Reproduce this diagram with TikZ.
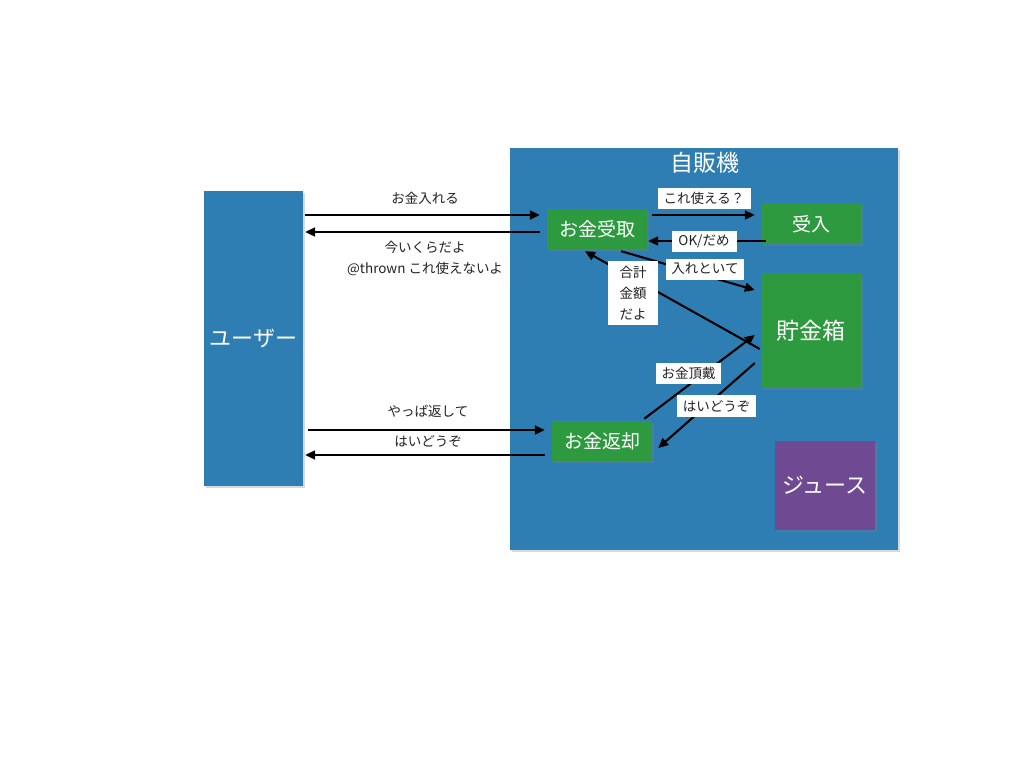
\documentclass[tikz,border=0pt]{standalone}
\usepackage{fontspec}
\setmainfont{Noto Sans CJK JP}
\usetikzlibrary{arrows.meta,shadows}
\definecolor{kblue}{RGB}{47,126,179}
\definecolor{kgreen}{RGB}{46,154,63}
\definecolor{kpurple}{RGB}{111,74,147}
\definecolor{ktext}{RGB}{34,34,34}
\begin{document}
\begin{tikzpicture}[x=1pt,y=-1pt,
  shad/.style={drop shadow={opacity=0.3,shadow xshift=1.5pt,shadow yshift=-1.5pt}},
  bluebox/.style={fill=kblue,draw=none,inner sep=0pt,shad},
  gbox/.style={fill=kgreen,draw=none,text=white,inner sep=0pt,minimum width=100pt,font=\fontsize{19}{22}\selectfont,shad},
  lbl/.style={text=ktext,inner sep=0pt,font=\fontsize{13.5}{21}\selectfont,align=center},
  wbox/.style={fill=white,text=ktext,inner sep=0pt,font=\fontsize{13.5}{21}\selectfont,align=center},
  arr/.style={draw=black,line width=2.1pt,-{Triangle[length=10pt,width=9pt]}}]
\useasboundingbox (0,0) rectangle (1024,768);
% containers
\node[bluebox,minimum width=388pt,minimum height=402pt] (machine) at (704,349) {};
\node[text=white,font=\fontsize{23}{26}\selectfont,inner sep=0pt] (title) at (705,163) {自販機};
\node[bluebox,minimum width=99pt,minimum height=295pt,text=white,font=\fontsize{22}{25}\selectfont] (user) at (253.5,338.5) {ユーザー};
% green boxes
\node[gbox,minimum height=40pt] (recv) at (597,229) {お金受取};
\node[gbox,minimum height=40pt] (accept) at (811,224) {受入};
\node[gbox,minimum height=115pt,font=\fontsize{23}{26}\selectfont] (bank) at (811,330.5) {貯金箱};
\node[gbox,minimum height=40pt] (ret) at (602,441) {お金返却};
\node[fill=kpurple,draw=none,text=white,inner sep=0pt,minimum width=100pt,minimum height=89pt,font=\fontsize{22}{25}\selectfont,shad] (juice) at (825,485.5) {ジュース};
% user <-> machine arrows
\draw[arr] ([xshift=2pt,yshift=123.5pt]user.east) -- ([xshift=-7pt,yshift=14pt]recv.west);
\draw[arr] ([xshift=-7pt,yshift=-3pt]recv.west) -- ([xshift=2pt,yshift=106.5pt]user.east);
\draw[arr] ([xshift=5pt,yshift=-91.5pt]user.east) -- ([xshift=-7pt,yshift=11pt]ret.west);
\draw[arr] ([xshift=-7pt,yshift=-14pt]ret.west) -- ([xshift=2pt,yshift=-116.5pt]user.east);
\node[lbl] (l1) at (425,198) {お金入れる};
\node[lbl] (l2) at (425,258.5) {今いくらだよ\\@thrown これ使えないよ};
\node[lbl] (l4) at (428,411) {やっぱ返して};
\node[lbl] (l5) at (428,441) {はいどうぞ};
% inner arrows
\draw[arr] ([xshift=5pt,yshift=14pt]recv.east) -- ([xshift=-6pt,yshift=9pt]accept.west);
\draw[arr] ([xshift=5pt,yshift=-17pt]accept.west) -- ([xshift=1pt,yshift=-12pt]recv.east);
\draw[arr] ([xshift=-26pt,yshift=-2pt]recv.south east) -- ([xshift=-6pt,yshift=40.5pt]bank.west);
\draw[arr] ([xshift=-1pt,yshift=-18.5pt]bank.west) -- ([xshift=-12pt,yshift=-2pt]recv.south);
\draw[arr] ([xshift=-8pt,yshift=2pt]ret.north east) -- ([xshift=-6pt,yshift=-4.5pt]bank.west);
\draw[arr] ([xshift=-6pt,yshift=-32.5pt]bank.west) -- ([xshift=6pt,yshift=-7pt]ret.east);
% white labels
\node[wbox,minimum width=93pt,minimum height=21pt] (w1) at (704,198) {これ使える？};
\node[wbox,minimum width=65pt,minimum height=21pt] (w2) at (704,241) {OK/だめ};
\node[wbox,minimum width=78pt,minimum height=21pt] (w3) at (705,269) {入れといて};
\node[wbox,minimum width=50pt,minimum height=64pt] (w4) at (633,293) {合計\\金額\\だよ};
\node[wbox,minimum width=65pt,minimum height=21pt] (w5) at (688.5,373.5) {お金頂戴};
\node[wbox,minimum width=79pt,minimum height=22pt] (w6) at (716.5,406) {はいどうぞ};
\end{tikzpicture}
\end{document}
